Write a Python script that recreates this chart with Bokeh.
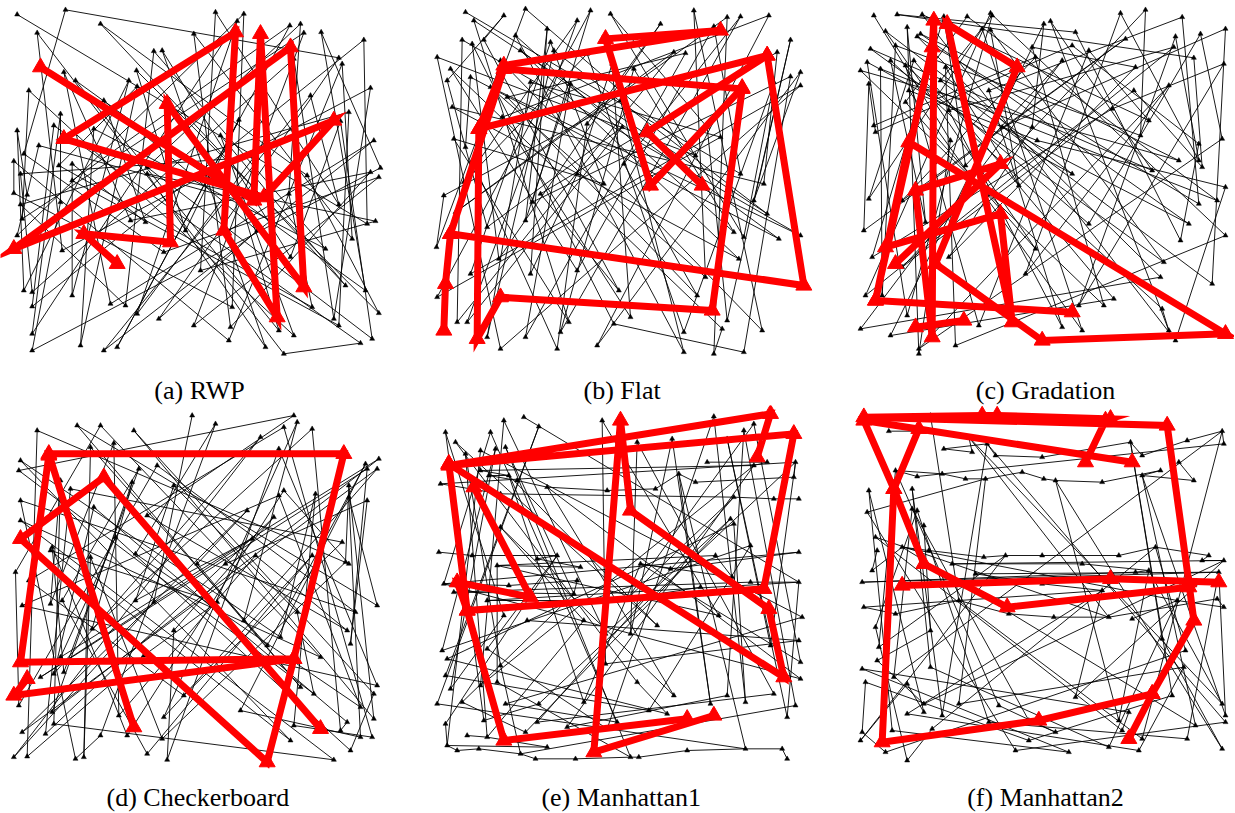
from bokeh.plotting import figure
from bokeh.layouts import column, row
from bokeh.models import Range1d
from bokeh.embed import file_html
from bokeh.resources import INLINE
from bokeh.core.properties import value

# ---------------- data (panel-local units, y grows downward) ----------------
CAPTIONS = ["(a) RWP", "(b) Flat", "(c) Gradation",
            "(d) Checkerboard", "(e) Manhattan1", "(f) Manhattan2"]

BLACK_A = [(50,42),(195,28),(645,35),(730,40),(300,70),(710,62),(868,75),(900,70),(110,97),(580,100),
           (910,97),(962,95),(1090,118),(460,152),(485,150),(880,175),(1015,172),(190,215),(408,210),(225,240),
           (385,240),(1025,190),(85,270),(1110,262),(410,258),(310,300),(930,285),(180,340),(1045,335),(715,358),
           (160,375),(1020,362),(50,390),(115,435),(70,460),(40,482),(280,385),(660,405),(1120,420),(60,520),
           (175,495),(215,490),(440,520),(215,540),(1140,502),(1135,530),(1110,515),(920,525),(40,578),(80,583),
           (180,605),(865,580),(1015,612),(60,612),(65,655),(390,660),(435,665),(1100,670),(1125,662),(770,690),
           (50,705),(555,690),(185,750),(975,745),(1055,715),(490,755),(870,770),(70,870),(95,875),(600,810),
           (1035,855),(1095,870),(215,885),(95,918),(330,910),(375,915),(410,940),(475,955),(695,920),(935,920),
           (1135,938),(1000,955),(580,975),(690,980),(835,990),(1015,975),(95,1000),(880,1005),(1115,1015),(1080,1028),
           (685,1020),(240,1035),(350,1040),(310,1050),(95,1050),(795,1040),(850,1060),(720,600),(440,500),(760,470)]

BLACK_B = [(135,35),(250,45),(315,25),(510,30),(570,40),(820,30),(1045,45),(960,48),(920,50),(160,60),
           (470,60),(720,70),(880,78),(380,85),(285,105),(125,118),(190,118),(390,125),(1110,118),(155,130),
           (300,150),(400,150),(500,160),(760,155),(795,158),(1070,155),(50,170),(240,180),(575,190),(1140,215),
           (90,205),(640,205),(150,230),(1110,228),(80,240),(330,245),(450,250),(1060,245),(1140,255),(210,260),
           (260,290),(95,320),(600,300),(245,350),(500,370),(605,380),(100,415),(860,380),(900,410),(135,440),
           (155,480),(610,490),(825,465),(470,520),(130,545),(550,550),(1030,550),(960,520),(70,585),(360,580),
           (335,605),(1000,600),(105,635),(315,660),(1040,640),(200,680),(940,695),(1075,715),(1140,705),(48,740),
           (970,710),(235,775),(955,775),(470,810),(150,820),(330,820),(855,830),(595,870),(50,890),(830,885),
           (920,960),(110,965),(140,965),(445,965),(580,970),(630,950),(1025,990),(790,995),(420,995),(905,985),
           (200,1010),(315,1010),(530,1035),(240,1045),(410,1045),(790,1055),(880,1060),(970,1055)]

BLACK_C = [(115,45),(185,42),(260,42),(325,48),(395,48),(465,38),(470,45),(625,70),(645,62),(855,38),
           (930,28),(1040,50),(215,80),(255,100),(440,85),(465,88),(720,95),(1095,100),(150,92),(245,108),
           (870,115),(1020,108),(180,135),(105,145),(590,140),(710,135),(760,150),(1015,140),(1170,85),(95,185),
           (165,180),(235,180),(600,170),(680,180),(1075,172),(1165,190),(75,210),(135,205),(210,195),(330,200),
           (900,200),(100,250),(220,270),(315,240),(460,270),(895,270),(1000,255),(210,305),(830,325),(115,375),
           (340,330),(590,380),(940,360),(500,380),(915,405),(1160,415),(120,395),(345,420),(605,420),(1090,430),
           (390,495),(710,520),(950,510),(1030,480),(1090,480),(1100,500),(100,595),(200,600),(550,555),(1170,560),
           (1145,600),(1090,610),(85,690),(270,665),(760,670),(1060,670),(1170,705),(1035,720),(110,770),(340,770),
           (600,745),(985,785),(200,800),(570,820),(975,830),(1130,850),(90,885),(140,885),(835,895),(980,925),
           (730,915),(805,915),(215,945),(430,975),(680,980),(740,990),(1000,990),(75,985),(165,1005),(360,1035),
           (250,1045),(250,1060),(1020,1020)]

BLACK_D = [(575,45),(880,45),(110,90),(230,75),(300,75),(400,90),(645,70),(850,80),(935,85),(890,65),
           (340,128),(270,140),(780,110),(835,145),(60,180),(1135,175),(55,210),(415,205),(470,195),(1095,190),
           (1100,205),(1130,205),(180,240),(395,245),(210,265),(520,255),(850,270),(1045,255),(835,285),(60,300),
           (280,320),(945,280),(1100,300),(1045,290),(440,345),(740,330),(820,350),(60,360),(155,440),(345,410),
           (1025,425),(755,415),(150,450),(405,460),(270,470),(765,465),(935,465),(45,515),(590,490),(675,490),
           (1035,485),(85,540),(1045,490),(65,615),(150,610),(185,600),(405,600),(460,605),(650,605),(890,635),
           (1130,615),(1065,635),(275,685),(520,690),(730,660),(1040,690),(840,710),(1050,730),(180,770),(430,765),
           (960,770),(800,735),(120,830),(160,820),(190,815),(1130,855),(1120,880),(940,880),(900,860),(550,885),
           (55,915),(155,935),(355,945),(490,950),(720,930),(1080,920),(1120,955),(160,970),(880,975),(1040,965),
           (65,995),(135,1000),(300,1005),(380,1005),(485,1015),(870,1020),(1020,990),(1080,1010),(1115,1010),(1050,1050),
           (440,1060),(40,1070),(80,1068),(225,1075),(250,1070),(500,1078),(1000,1078)]

BLACK_E = [(310,50),(545,60),(880,48),(1000,70),(250,60),(355,78),(970,90),(210,95),(75,95),(105,125),
           (255,140),(755,115),(920,115),(135,160),(180,150),(225,145),(860,185),(1040,185),(1000,195),(650,125),
           (180,210),(265,225),(205,225),(290,240),(380,260),(560,270),(705,265),(775,220),(825,245),(1120,230),
           (1125,185),(60,250),(240,280),(940,290),(1060,295),(1135,295),(240,380),(930,355),(940,370),(990,435),
           (55,455),(155,465),(410,465),(350,475),(480,500),(230,495),(885,465),(935,530),(660,490),(750,505),
           (1135,455),(70,550),(265,555),(470,540),(460,580),(100,575),(990,545),(1135,545),(200,600),(540,600),
           (620,595),(840,560),(250,645),(490,660),(710,675),(895,645),(1145,650),(320,660),(65,750),(200,745),
           (555,700),(630,700),(1135,720),(1050,735),(80,775),(240,795),(75,825),(555,790),(1140,785),(1140,835),
           (180,855),(90,865),(230,845),(650,845),(1060,880),(1125,915),(50,910),(125,905),(255,910),(355,910),
           (490,905),(760,885),(920,885),(975,905),(870,910),(75,970),(190,960),(350,965),(590,965),(685,930),
           (740,940),(1100,950),(560,985),(440,980),(140,1005),(200,1010),(315,995),(380,1040),(80,1035),(110,1050),
           (175,1045),(300,1060),(345,1075),(465,1075),(630,1070),(655,1070),(800,1050),(975,1045),(1085,1045),(1100,1075)]

BLACK_F = [(285,45),(160,92),(240,92),(400,110),(410,155),(325,145),(455,130),(480,165),(620,170),(885,125),
           (920,165),(1055,120),(1160,92),(1165,130),(245,228),(180,210),(320,220),(390,235),(450,235),(560,215),
           (625,235),(660,240),(800,245),(975,210),(920,225),(1075,240),(1030,185),(100,270),(230,265),(95,335),
           (230,325),(245,330),(265,375),(120,410),(125,450),(110,510),(200,440),(280,450),(445,470),(510,465),
           (620,465),(850,465),(960,440),(1120,465),(1100,480),(1165,480),(350,490),(740,490),(940,510),(900,515),
           (80,545),(1150,515),(420,520),(620,550),(800,570),(85,620),(180,640),(370,600),(520,640),(655,650),
           (820,650),(1145,595),(1165,620),(1025,600),(980,715),(890,655),(120,680),(285,690),(130,740),(1050,750),
           (1045,800),(80,805),(125,780),(175,830),(90,845),(285,800),(215,850),(265,910),(1160,910),(1170,945),
           (370,910),(490,915),(720,890),(1010,885),(880,935),(320,945),(265,935),(215,940),(460,965),(580,960),
           (850,960),(1080,975),(1170,965),(80,995),(170,990),(290,985),(660,995),(860,990),(1055,1015),(75,1020),
           (580,1020),(920,1015),(150,1055),(540,1050),(700,1055),(820,1040),(910,1050),(1160,1045),(215,1080)]

# order in which the black waypoints are visited
VISIT = [0,57,101,12,73,30,89,96,8,62,23,110,81,15,68,39,99,76,5,86,117,27,50,94,44,104,11,71,19,84,
         97,33,60,3,78,113,48,35,90,21,107,64,9,83,46,100,55,17,74,38,119,93,26,52,2,102,69,58,42,95,
         108,14,66,31,88,98,7,51,79,40,115,24,91,36,63,105,13,75,53,28,111,85,43,6,92,103,29,61,18,80,
         118,47,4,70,37,106,87,22,54,10,114,82,45,65,34,109,1,16,77,59,116,25,56,41,72,112,20,67,32,49]
# street rows (Manhattan panels): waypoints inside a row are travelled along it
STREETS = [[], [], [], [],
           [(180, 300), (440, 600), (1000, 1080)],
           [(80, 250), (440, 660)]]

RED_A = [[(120,200),(760,600),(780,100),(830,950),(670,690),(705,95),(190,415),(790,590),(1000,360),(40,745),
          (870,140),(910,860),(500,310),(510,725),(250,700),(350,790)]]
RED_B = [[(70,990),(75,850),(90,700),(250,205),(965,265),(875,930),(240,890),(170,1015),(175,385),(1040,165),
          (1150,855),(90,700)],
         [(175,385),(250,195),(900,90),(555,115),(690,555),(965,262)],
         [(1040,165),(680,395),(845,555)]]
RED_C = [[(150,740),(495,640),(530,965),(335,70),(545,200),(300,790),(620,1020),(1170,1000),(220,425),(120,900),
          (290,140),(295,60),(290,1010),(240,570),(495,490),(180,790)],
         [(120,900),(710,935)],
         [(240,980),(385,960)]]
RED_D = [[(960,985),(310,230),(60,415),(800,1085),(880,775),(40,885),(80,835)],
         [(400,980),(145,160),(1030,160),(880,775),(60,785),(145,165)]]
RED_E = [[(160,260),(330,590),(110,545),(140,630),(1030,565),(1120,100),(85,195),(1050,40),(1010,170)],
         [(85,190),(1090,830),(1045,625),(630,330),(600,60),(520,1055),(880,945)],
         [(85,190),(140,630),(250,1020),(800,955)]]
RED_F = [[(750,185),(810,60),(825,55),(485,45),(440,45),(85,50),(995,75),(1060,545),(1075,660),(950,880),(880,1015)],
         [(950,880),(610,960),(140,1025),(175,265),(250,85)],
         [(890,185),(85,60),(175,265),(265,490),(515,620),(1060,560)],
         [(200,555),(825,535),(1150,545)]]

BLACKS = [BLACK_A, BLACK_B, BLACK_C, BLACK_D, BLACK_E, BLACK_F]
REDS = [RED_A, RED_B, RED_C, RED_D, RED_E, RED_F]

# ---------------- layout ----------------
# (panel origin x, origin y, figure left, figure top, width, height) in page px
LAYOUT = [(0, 0, 0, 0, 414, 405), (420, 0, 414, 0, 414, 405), (835, 0, 828, 0, 406, 405),
          (0, 400, 0, 405, 414, 407), (420, 400, 414, 405, 414, 407), (835, 400, 828, 405, 406, 407)]
CAPTION_POS = [(597, 1170), (605, 1170), (630, 1170), (592, 1191), (602, 1191), (630, 1191)]
K = 3.0  # panel units per page pixel


def make_panel(i):
    ox, oy, fl, ft, w, h = LAYOUT[i]
    p = figure(width=w, height=h,
               x_range=Range1d((fl - ox) * K, (fl + w - ox) * K),
               y_range=Range1d((ft + h - oy) * K, (ft - oy) * K),
               output_backend="svg", toolbar_location=None,
               x_axis_location=None, y_axis_location=None, min_border=0)
    p.outline_line_color = None
    p.background_fill_color = "white"
    p.border_fill_color = "white"
    p.xgrid.visible = False
    p.ygrid.visible = False

    pts = BLACKS[i]
    n = len(pts)
    paths = []
    in_street = set()
    for (y0, y1) in STREETS[i]:
        members = [k for k in range(n) if y0 <= pts[k][1] <= y1]
        in_street.update(members)
        paths.append(members)
    order = [k for k in VISIT if k < n and (k not in in_street or k % 3 == 0)]
    order += [k for k in range(n) if k not in order and k not in in_street]
    paths.append(order)
    p.multi_line([[pts[k][0] for k in o] for o in paths], [[pts[k][1] for k in o] for o in paths],
                 line_color="black", line_width=0.9)
    p.scatter([q[0] for q in pts], [q[1] for q in pts], marker="triangle",
              size=5, fill_color="black", line_color="black", line_width=0.5)

    strokes = REDS[i]
    p.multi_line([[q[0] for q in s] for s in strokes], [[q[1] for q in s] for s in strokes],
                 line_color="#ff0000", line_width=7, line_join="miter")
    rx = [q[0] for s in strokes for q in s]
    ry = [q[1] for s in strokes for q in s]
    p.scatter(rx, ry, marker="triangle", size=16, fill_color="#ff0000", line_color="#ff0000")

    cx, cy = CAPTION_POS[i]
    p.text(x=[cx], y=[cy], text=[CAPTIONS[i]], text_font=value("Liberation Serif"),
           text_font_size="26px", text_align="center", text_baseline="alphabetic",
           text_color="black")
    return p


figs = [make_panel(i) for i in range(6)]
layout = column(row(*figs[:3]), row(*figs[3:]))
open("out.html", "w").write(file_html(layout, INLINE))
